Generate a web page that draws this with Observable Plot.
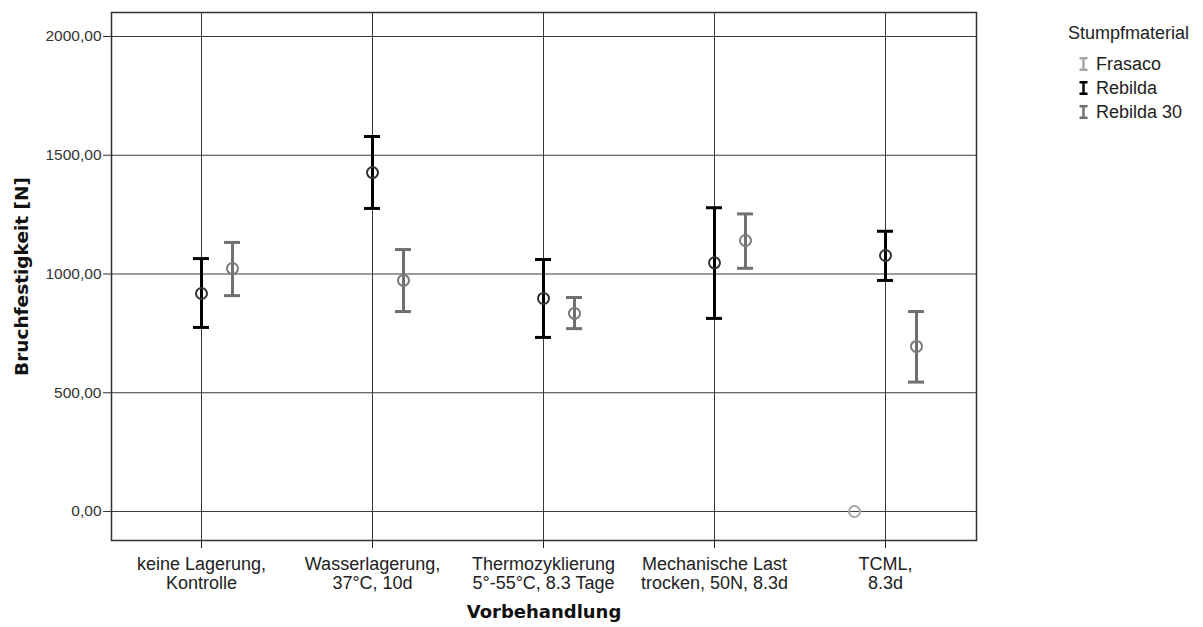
<!DOCTYPE html>
<html>
<head>
<meta charset="utf-8">
<script src="https://cdn.jsdelivr.net/npm/d3@7"></script>
<script src="https://cdn.jsdelivr.net/npm/@observablehq/plot@0.6"></script>
<style>
  body { margin: 0; background: #fff; font-family: "Liberation Sans", Arial, sans-serif; }
  #wrap { position: relative; width: 1203px; height: 627px; }
  #legend { position: absolute; left: 1068px; top: 22px; font-size: 18px; color: #222; line-height: 22px; }
  #legend .title { margin-bottom: 8px; }
  #legend .item { display: flex; align-items: center; height: 24px; padding-left: 11px; }
  #legend svg { margin-right: 8px; }
</style>
</head>
<body>
<div id="wrap">
  <div id="chart"></div>
  <div id="legend"></div>
</div>
<script>
const categories = [
  "keine Lagerung,\nKontrolle",
  "Wasserlagerung,\n37°C, 10d",
  "Thermozyklierung\n5°-55°C, 8.3 Tage",
  "Mechanische Last\ntrocken, 50N, 8.3d",
  "TCML,\n8.3d"
];
const seriesNames = ["Frasaco", "Rebilda", "Rebilda 30"];
// per series: mean, lower, upper per category (null = no data)
const frasacoMean  = [null, null, null, null, 0];
const frasacoLow   = [null, null, null, null, null];
const frasacoHigh  = [null, null, null, null, null];
const rebildaMean  = [918, 1427, 897, 1047, 1078];
const rebildaLow   = [775, 1276, 733, 813, 973];
const rebildaHigh  = [1065, 1579, 1061, 1279, 1180];
const rebilda30Mean = [1023, 973, 834, 1141, 695];
const rebilda30Low  = [909, 842, 770, 1024, 545];
const rebilda30High = [1133, 1103, 901, 1253, 842];
const yTicks = [0, 500, 1000, 1500, 2000];

const barColor = {"Frasaco": "#a6a6a6", "Rebilda": "#000000", "Rebilda 30": "#707070"};
const dotColor = {"Frasaco": "#a6a6a6", "Rebilda": "#333333", "Rebilda 30": "#7a7a7a"};
const offsets = {"Frasaco": -31, "Rebilda": 0, "Rebilda 30": 31};

const sources = {
  "Frasaco": [frasacoMean, frasacoLow, frasacoHigh],
  "Rebilda": [rebildaMean, rebildaLow, rebildaHigh],
  "Rebilda 30": [rebilda30Mean, rebilda30Low, rebilda30High]
};
const rows = [];
for (const s of seriesNames) {
  const [m, lo, hi] = sources[s];
  categories.forEach((c, i) => {
    if (m[i] != null) rows.push({cat: c, series: s, mean: m[i], low: lo[i], high: hi[i]});
  });
}

const marks = [
  Plot.gridY(yTicks, {stroke: "#3a3a3a", strokeOpacity: 1, strokeWidth: 1}),
  Plot.gridX(categories, {stroke: "#3a3a3a", strokeOpacity: 1, strokeWidth: 1}),
  Plot.axisY(yTicks, {
    tickFormat: d => d3.format(".2f")(d).replace(".", ","),
    tickSize: 8, tickPadding: 2, fontSize: 15.5, color: "#333", label: null,
    fontFamily: "Liberation Sans, Arial, sans-serif"
  }),
  Plot.axisX({
    tickSize: 8, tickPadding: 8, fontSize: 18, label: null,
    fontFamily: "Liberation Sans, Arial, sans-serif",
    lineHeight: 1.05, color: "#222"
  }),
  Plot.frame({stroke: "#333", strokeWidth: 1.5})
];
for (const s of seriesNames) {
  const d = rows.filter(r => r.series === s && r.low != null);
  const dd = rows.filter(r => r.series === s);
  const dx = offsets[s];
  marks.push(
    Plot.ruleX(d, {x: "cat", y1: "low", y2: "high", dx, stroke: barColor[s], strokeWidth: 3}),
    Plot.tickY(d, {x: "cat", y: "low", dx, stroke: barColor[s], strokeWidth: 3}),
    Plot.tickY(d, {x: "cat", y: "high", dx, stroke: barColor[s], strokeWidth: 3}),
    Plot.dot(dd, {x: "cat", y: "mean", dx, r: 5.5, stroke: dotColor[s], strokeWidth: 2, fill: "none"})
  );
}
marks.push(
  Plot.text(["Vorbehandlung"], {frameAnchor: "bottom", dy: 77, fontWeight: "bold", fontSize: 18, fill: "#111", fontFamily: "DejaVu Sans, sans-serif"}),
  Plot.text(["Bruchfestigkeit [N]"], {frameAnchor: "left", textAnchor: "middle", dx: -89, rotate: -90, fontWeight: "bold", fontSize: 18.5, fill: "#111", fontFamily: "DejaVu Sans, sans-serif"})
);

const chart = Plot.plot({
  width: 1203,
  height: 627,
  marginLeft: 111,
  marginRight: 227,
  marginTop: 12,
  marginBottom: 87,
  style: {fontFamily: "Liberation Sans, Arial, sans-serif", background: "#fff"},
  x: {type: "band", domain: categories, paddingInner: 0.906, paddingOuter: 0.48, axis: null},
  y: {domain: [-122, 2101], axis: null},
  marks
});
document.getElementById("chart").appendChild(chart);

const legend = document.getElementById("legend");
legend.innerHTML = `<div class="title">Stumpfmaterial</div>` + seriesNames.map(s =>
  `<div class="item"><svg width="9" height="14"><path d="M0.5,1.2H8.5M4.5,1.2V12.8M0.5,12.8H8.5" stroke="${barColor[s]}" stroke-width="2.4" fill="none"/></svg>${s}</div>`
).join("");
</script>
</body>
</html>
